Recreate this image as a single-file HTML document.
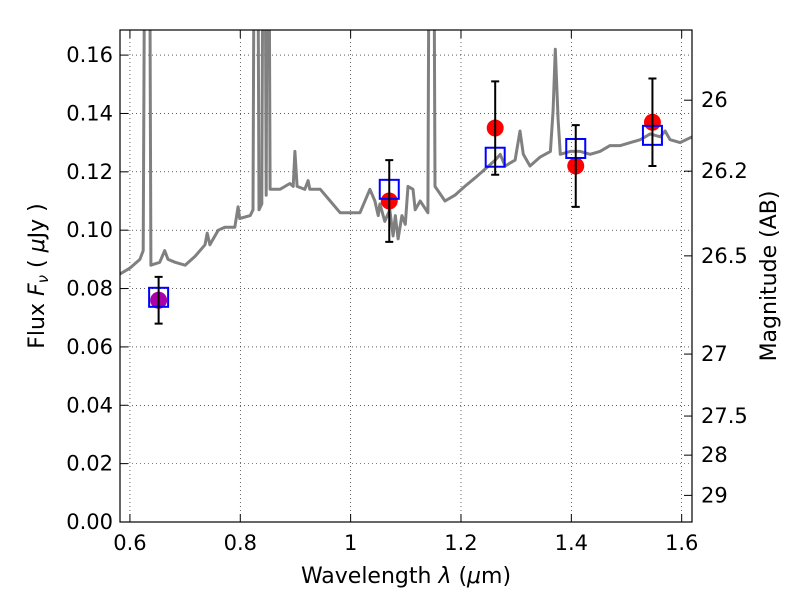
<!DOCTYPE html>
<html><head><meta charset="utf-8">
<style>
html,body{margin:0;padding:0;background:#fff;}
svg{display:block;font-family:"DejaVu Sans","Liberation Sans",sans-serif;}
</style></head>
<body>
<svg id="chart" width="800" height="600" viewBox="0 0 800 600" xmlns="http://www.w3.org/2000/svg">
<rect width="800" height="600" fill="#fff"/>
<g id="grid"></g>
<g id="plot"></g>
<g id="axes"></g>
<text x="406" y="583" font-size="22" text-anchor="middle">Wavelength  <tspan font-style="italic">λ</tspan> (<tspan font-style="italic">μ</tspan>m)</text>
<text transform="translate(44,276) rotate(-90)" font-size="22" text-anchor="middle">Flux  <tspan font-style="italic">F<tspan font-size="15" dy="4">ν</tspan></tspan><tspan dy="-4">  ( <tspan font-style="italic">μ</tspan>Jy )</tspan></text>
<text transform="translate(776,276) rotate(-90)" font-size="22" text-anchor="middle">Magnitude (AB)</text>
</svg>
<script>
const specWl = [0.582,0.600,0.618,0.624,0.629,0.634,0.638,0.654,0.663,0.669,0.682,0.700,0.718,0.736,0.740,0.745,0.760,0.772,0.790,0.796,0.799,0.818,0.823,0.827,0.830,0.834,0.839,0.843,0.847,0.850,0.854,0.872,0.890,0.896,0.899,0.903,0.917,0.923,0.926,0.945,0.963,0.981,0.999,1.017,1.035,1.044,1.050,1.053,1.062,1.071,1.077,1.081,1.086,1.093,1.099,1.104,1.113,1.117,1.126,1.140,1.144,1.149,1.153,1.171,1.189,1.207,1.226,1.244,1.262,1.271,1.280,1.298,1.307,1.313,1.325,1.343,1.362,1.367,1.371,1.376,1.380,1.398,1.416,1.434,1.452,1.470,1.489,1.507,1.525,1.543,1.561,1.570,1.579,1.597,1.619];
const specFlux = [0.085,0.087,0.090,0.093,0.30,0.30,0.088,0.089,0.093,0.090,0.089,0.088,0.091,0.095,0.099,0.095,0.100,0.101,0.101,0.108,0.104,0.105,0.107,0.30,0.30,0.107,0.109,0.30,0.112,0.30,0.114,0.114,0.116,0.115,0.127,0.115,0.114,0.117,0.114,0.114,0.110,0.106,0.106,0.106,0.114,0.110,0.105,0.109,0.103,0.107,0.098,0.105,0.097,0.105,0.102,0.115,0.114,0.107,0.110,0.106,0.30,0.30,0.115,0.110,0.112,0.115,0.118,0.121,0.124,0.126,0.122,0.124,0.134,0.126,0.122,0.125,0.127,0.141,0.162,0.138,0.126,0.127,0.127,0.126,0.127,0.129,0.129,0.130,0.131,0.133,0.132,0.134,0.131,0.130,0.132];
const obsWl = [0.652,1.07,1.262,1.408,1.547];
const modelFlux = [0.077,0.114,0.125,0.128,0.1325];
const obsFlux = [0.076,0.110,0.135,0.122,0.137];
const errLow = [0.068,0.096,0.119,0.108,0.122];
const errHigh = [0.084,0.124,0.151,0.136,0.152];
const xTicks = [0.6,0.8,1.0,1.2,1.4,1.6];
const xTickLabels = ["0.6","0.8","1","1.2","1.4","1.6"];
const yTicks = [0,0.02,0.04,0.06,0.08,0.10,0.12,0.14,0.16];
const yTickLabels = ["0.00","0.02","0.04","0.06","0.08","0.10","0.12","0.14","0.16"];
const magTicks = [26,26.2,26.5,27,27.5,28,29];
const magTickLabels = ["26","26.2","26.5","27","27.5","28","29"];

const L=120,R=692,T=30,B=522;
const xmin=0.582,xmax=1.6187,ymin=0,ymax=0.1686;
const sx=v=>L+(v-xmin)/(xmax-xmin)*(R-L);
const sy=v=>B-(v-ymin)/(ymax-ymin)*(B-T);
const magToFlux=m=>Math.pow(10,(23.9-m)/2.5);
const NS="http://www.w3.org/2000/svg";
function mk(tag,attrs,parent){const e=document.createElementNS(NS,tag);for(const k in attrs)e.setAttribute(k,attrs[k]);parent.appendChild(e);return e;}
const grid=document.getElementById('grid'),plot=document.getElementById('plot'),axes=document.getElementById('axes');

xTicks.forEach((t,i)=>{
 const x=sx(t);
 const g=mk('line',{x1:x,x2:x,y1:T,y2:B,stroke:'#000','stroke-width':0.6,'stroke-dasharray':'1,3'},grid);
 
 
 const tk=mk('line',{x1:x,x2:x,y1:B,y2:B-8,stroke:'#000'},axes);
 
 
 mk('line',{x1:x,x2:x,y1:T,y2:T+8,stroke:'#000'},axes);
 const lb=mk('text',{x:x,y:B+28,'font-size':21,'text-anchor':'middle'},axes);
 lb.textContent=xTickLabels[i];
 
 
});
yTicks.forEach((t,i)=>{
 const y=sy(t);
 const g=mk('line',{x1:L,x2:R,y1:y,y2:y,stroke:'#000','stroke-width':0.6,'stroke-dasharray':'1,3'},grid);
 
 
 const tk=mk('line',{x1:L,x2:L+8,y1:y,y2:y,stroke:'#000'},axes);
 
 
 const lb=mk('text',{x:L-7,y:y+7,'font-size':21,'text-anchor':'end'},axes);
 lb.textContent=yTickLabels[i];
 
 
});
magTicks.forEach((m,i)=>{
 const y=sy(magToFlux(m));
 const tk=mk('line',{x1:R,x2:R-8,y1:y,y2:y,stroke:'#000'},axes);
 
 
 const lb=mk('text',{x:R+9,y:y+7,'font-size':21,'text-anchor':'start'},axes);
 lb.textContent=magTickLabels[i];
 
 
});

const cp=mk('clipPath',{id:'clip'},plot);
mk('rect',{x:L,y:T,width:R-L,height:B-T},cp);
const d=specWl.map((w,i)=>(i?'L':'M')+sx(w).toFixed(1)+','+sy(specFlux[i]).toFixed(1)).join(' ');
const sp=mk('path',{d:d,fill:'none',stroke:'#808080','stroke-width':3,'clip-path':'url(#clip)','stroke-linejoin':'round'},plot);



obsWl.forEach((w,i)=>{
 const x=sx(w);
 const c=mk('circle',{cx:x,cy:sy(obsFlux[i]),r:8.5,fill:i===0?'#aa00aa':'#ff0000'},plot);
 
 
 const s=mk('rect',{x:x-9.5,y:sy(modelFlux[i])-9.5,width:19,height:19,fill:'none',stroke:'#0000ff','stroke-width':2},plot);
 
 
 const e=mk('path',{d:`M${x},${sy(errLow[i])}V${sy(errHigh[i])}M${x-4},${sy(errLow[i])}H${x+4}M${x-4},${sy(errHigh[i])}H${x+4}`,stroke:'#000','stroke-width':2,fill:'none'},plot);
 
 
});

const fr=mk('rect',{x:L,y:T,width:R-L,height:B-T,fill:'none',stroke:'#000','stroke-width':1.2},axes);


</script>
</body></html>
